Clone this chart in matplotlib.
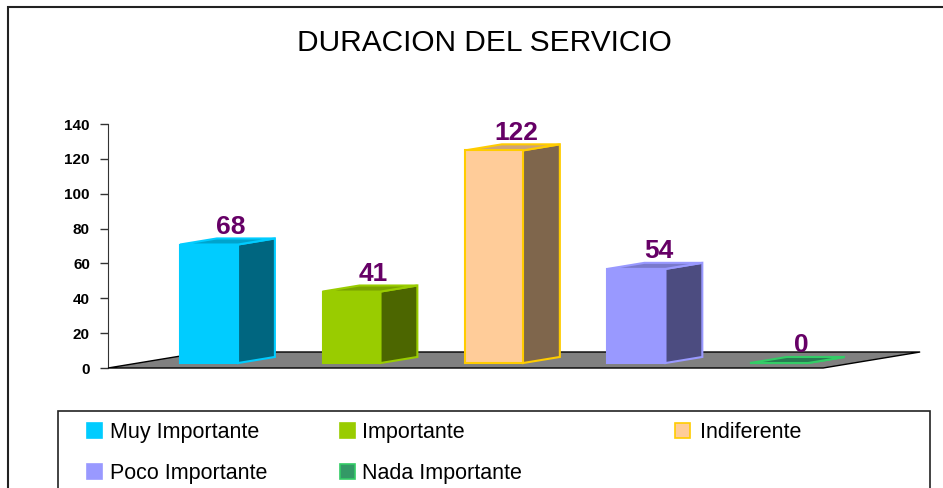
import matplotlib
matplotlib.use('Agg')
import matplotlib.pyplot as plt
from matplotlib.patches import Polygon, Rectangle

# datos
categories = ['Muy Importante', 'Importante', 'Indiferente', 'Poco Importante', 'Nada Importante']
values = [68, 41, 122, 54, 0]
yticks = [0, 20, 40, 60, 80, 100, 120, 140]

# colores (cara frontal, lateral, superior, borde)
front_colors = ['#00CCFF', '#99CC00', '#FFCC99', '#9999FF', '#339966']
side_colors = ['#006680', '#4C6600', '#7F664C', '#4C4C80', '#1A4D33']
top_colors = ['#00A3CC', '#7AA300', '#CCA37A', '#7A7ACC', '#297A52']
edge_colors = ['#00CCFF', '#99CC00', '#FFCC00', '#9999FF', '#33CC66']

plt.rcParams['font.family'] = ['Liberation Sans', 'DejaVu Sans']

W, H = 943, 488
fig = plt.figure(figsize=(W / 100, H / 100), dpi=100)


def fx(px):
    return px / W


def fy(py):
    return 1 - py / H


# marco exterior
fig.add_artist(Rectangle((fx(8), fy(600)), fx(1000), fy(7) - fy(600),
                         transform=fig.transFigure, fill=False,
                         edgecolor='#222222', lw=1.5))

fig.text(fx(484), fy(43), 'DURACION DEL SERVICIO', ha='center', va='center',
         fontsize=21.5, color='black')

ax = fig.add_axes([fx(108), fy(368), fx(920) - fx(108), fy(124) - fy(368)])
xmin, xmax = -0.709, 4.99
ax.set_xlim(xmin, xmax)
ax.set_ylim(0, 140)
ax.patch.set_alpha(0)

# proyeccion oblicua
DX, DY = 0.681, 9.18
d0, d1 = 0.31, 0.69
hw = 0.2035
bdx, bdy = (d1 - d0) * DX, (d1 - d0) * DY
y0 = d0 * DY

n = len(categories)
floor_right = n - 1 + 0.31
floor = Polygon([(xmin, 0), (floor_right, 0), (floor_right + DX, DY), (xmin + DX, DY)],
                closed=True, facecolor='#808080', edgecolor='black', lw=1,
                clip_on=False, zorder=1)
ax.add_patch(floor)

for i, v in enumerate(values):
    side = [(i + hw, y0), (i + hw + bdx, y0 + bdy), (i + hw + bdx, y0 + bdy + v), (i + hw, y0 + v)]
    top = [(i - hw, y0 + v), (i + hw, y0 + v), (i + hw + bdx, y0 + v + bdy), (i - hw + bdx, y0 + v + bdy)]
    front = [(i - hw, y0), (i + hw, y0), (i + hw, y0 + v), (i - hw, y0 + v)]
    for poly, col in [(side, side_colors[i]), (top, top_colors[i]), (front, front_colors[i])]:
        ax.add_patch(Polygon(poly, closed=True, facecolor=col, edgecolor=edge_colors[i],
                             lw=1.5, joinstyle='miter', clip_on=False, zorder=2))
    ax.text(i + 0.6 * bdx, y0 + v + bdy + 2.6, str(v), ha='center', va='baseline',
            fontsize=19, fontweight='bold', color='#660066', zorder=3, clip_on=False)

for s in ['top', 'right', 'bottom']:
    ax.spines[s].set_visible(False)
ax.spines['left'].set_color('#333333')
ax.spines['left'].set_zorder(0.5)
ax.set_xticks([])
ax.set_yticks(yticks)
ax.set_yticklabels([str(t) for t in yticks], fontweight='bold')
ax.tick_params(axis='y', direction='out', length=6, width=1, color='#333333',
               labelsize=11, pad=7)

# leyenda
fig.add_artist(Rectangle((fx(58), fy(600)), fx(930) - fx(58), fy(411) - fy(600),
                         transform=fig.transFigure, fill=False,
                         edgecolor='#222222', lw=1.2))
leg_pos = [(87, 110, 438), (340, 362, 438), (675, 700, 438), (87, 110, 479), (340, 362, 479)]
for i, (mx, tx, base) in enumerate(leg_pos):
    fig.add_artist(Rectangle((fx(mx), fy(base)), fx(15), fy(0) - fy(15),
                             transform=fig.transFigure, facecolor=front_colors[i],
                             edgecolor=edge_colors[i], lw=1.2))
    fig.text(fx(tx), fy(base), categories[i], ha='left', va='baseline', fontsize=15.5)

fig.savefig('out.png', dpi=100)
